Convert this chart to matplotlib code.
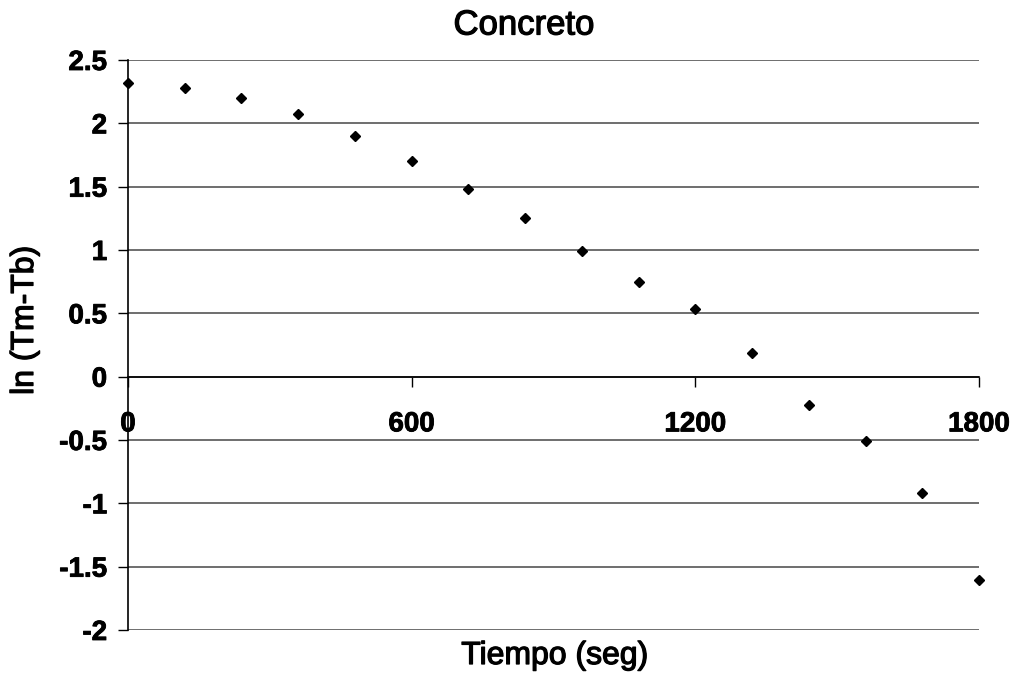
import numpy as np
import matplotlib
matplotlib.use('Agg')
import matplotlib.pyplot as plt
import matplotlib.patheffects as pe

plt.rcParams['font.family'] = ['Liberation Sans', 'DejaVu Sans']

# data
tiempo = [0, 120, 240, 360, 480, 600, 720, 840, 960, 1080, 1200, 1320, 1440, 1560, 1680, 1800]
ln_diff = [2.316, 2.277, 2.203, 2.074, 1.898, 1.703, 1.485, 1.252, 0.996, 0.747,
           0.534, 0.184, -0.223, -0.507, -0.917, -1.606]
x_ticks = [0, 600, 1200, 1800]
y_ticks = [-2, -1.5, -1, -0.5, 0, 0.5, 1, 1.5, 2, 2.5]
y_labels = ['-2', '-1.5', '-1', '-0.5', '0', '0.5', '1', '1.5', '2', '2.5']

W, H = 1014, 681
fig = plt.figure(figsize=(W / 100, H / 100), dpi=100)
ax = fig.add_axes([128 / W, 1 - 630 / H, (979 - 128) / W, (630 - 60) / H])

ax.plot(tiempo, ln_diff, linestyle='none', marker='D', markersize=5,
        color='black', clip_on=False, zorder=5)

ax.set_xlim(0, 1800)
ax.set_ylim(-2, 2.5)

# excel style: horizontal axis crosses at zero
ax.spines['bottom'].set_position(('data', 0))
ax.spines['top'].set_visible(False)
ax.spines['right'].set_visible(False)
ax.spines['left'].set_color('black')
ax.spines['bottom'].set_color('black')
ax.spines['left'].set_linewidth(1.2)
ax.spines['bottom'].set_linewidth(1.2)

ax.set_yticks(y_ticks)
ax.set_yticklabels(y_labels)
ax.set_xticks(x_ticks)
ax.set_xticklabels([str(t) for t in x_ticks])
ax.tick_params(axis='y', direction='out', length=7, width=1, pad=8,
               labelsize=20)
ax.tick_params(axis='x', direction='out', length=7, width=1, pad=18,
               labelsize=20)
thick = [pe.withStroke(linewidth=0.6, foreground='black')]
for lbl in ax.get_xticklabels() + ax.get_yticklabels():
    lbl.set_fontweight('bold')
    lbl.set_path_effects(thick)

ax.yaxis.grid(True, color='#555555', linewidth=1.2)
ax.set_axisbelow(True)

semi = [pe.withStroke(linewidth=0.9, foreground='black')]
fig.text(524 / W, 1 - 25 / H, 'Concreto', ha='center', va='center',
         fontsize=25, path_effects=semi)
fig.text(555 / W, 1 - 656 / H, 'Tiempo (seg)', ha='center', va='center',
         fontsize=23, path_effects=semi)
fig.text(25 / W, 1 - 320 / H, 'ln (Tm-Tb)', ha='center', va='center',
         rotation=90, fontsize=23, path_effects=semi)

fig.savefig('out.png', dpi=100)
